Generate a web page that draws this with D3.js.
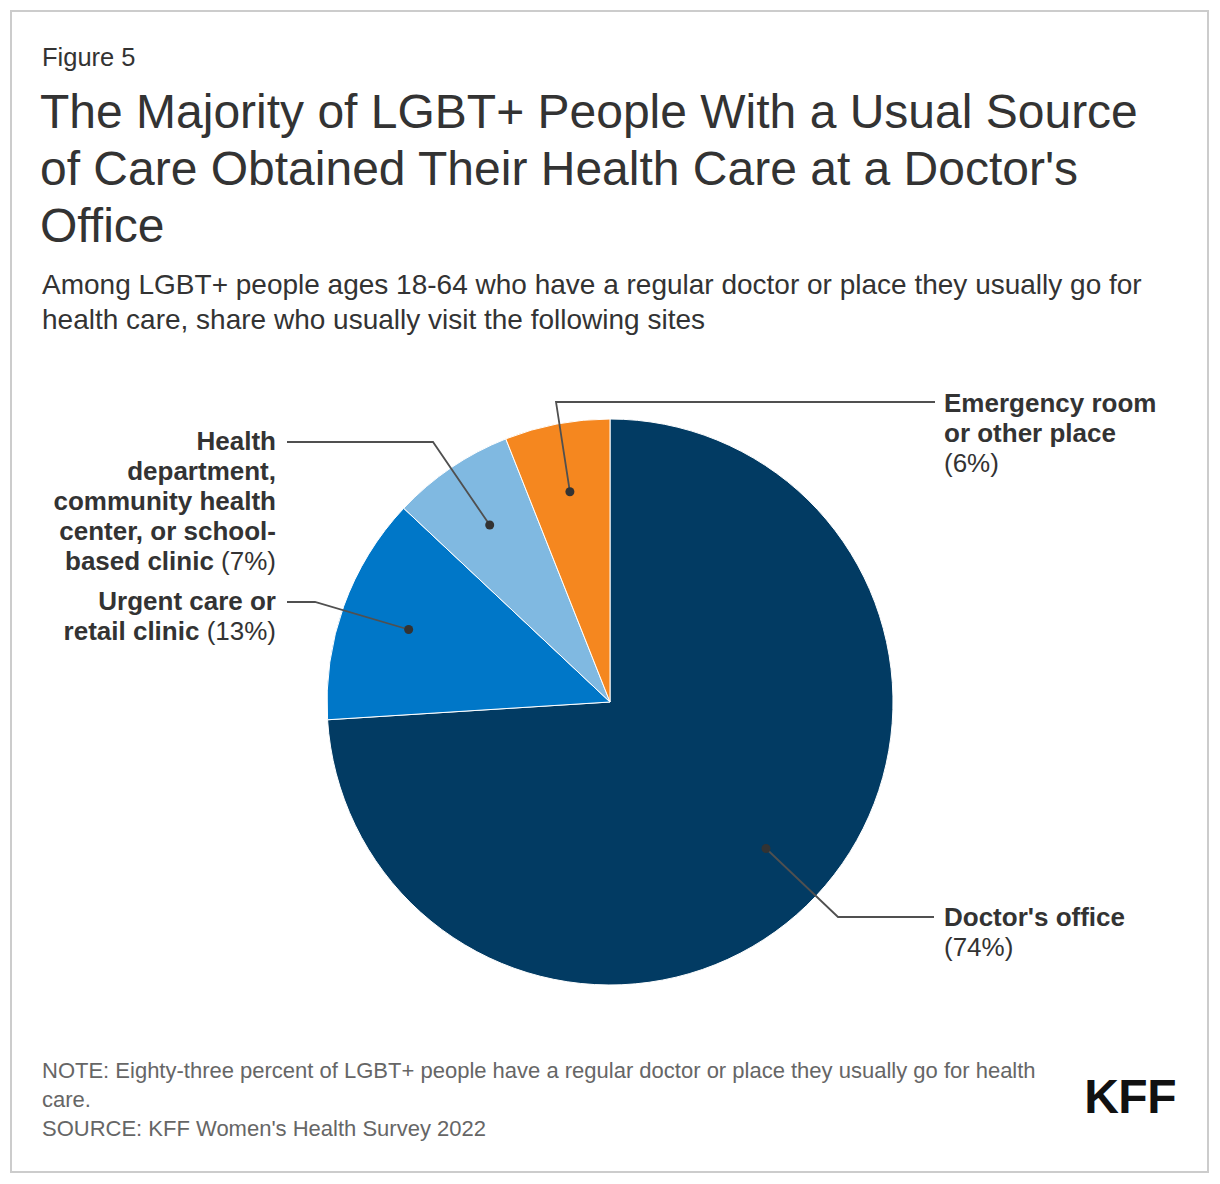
<!DOCTYPE html>
<html><head><meta charset="utf-8">
<script src="https://cdn.jsdelivr.net/npm/d3@7"></script>
<style>
body{margin:0;background:#fff;font-family:"Liberation Sans",Arial,sans-serif;}
svg text{font-family:"Liberation Sans",Arial,sans-serif;}
</style></head><body>
<script>
const categories = ["Doctor's office","Urgent care or retail clinic","Health department, community health center, or school-based clinic","Emergency room or other place"];
const values = [74, 13, 7, 6];
const colors = ["#023b63","#0077c8","#80b9e1","#f5871f"];
const labelLines = [
  ["Doctor's office"],
  ["Urgent care or", "retail clinic"],
  ["Health", "department,", "community health", "center, or school-", "based clinic"],
  ["Emergency room", "or other place", ""]
];
const pctLabels = values.map(v => "(" + v + "%)");

const W = 1220, H = 1184;
const svg = d3.select("body").append("svg").attr("width", W).attr("height", H);
svg.append("rect").attr("x",11).attr("y",11).attr("width",1197).attr("height",1161)
  .attr("fill","#fff").attr("stroke","#cccccc").attr("stroke-width",2);

svg.append("text").attr("x",42).attr("y",66).attr("font-size",25.5).attr("fill","#333").text("Figure 5");
const title = ["The Majority of LGBT+ People With a Usual Source","of Care Obtained Their Health Care at a Doctor's","Office"];
title.forEach((t,i)=>svg.append("text").attr("x",40).attr("y",128+i*57).attr("font-size",48).attr("fill","#333").text(t));
const sub = ["Among LGBT+ people ages 18-64 who have a regular doctor or place they usually go for","health care, share who usually visit the following sites"];
sub.forEach((t,i)=>svg.append("text").attr("x",42).attr("y",294+i*35).attr("font-size",28).attr("fill","#333").text(t));

const cx = 610, cy = 702, R = 283;
const g = svg.append("g").attr("transform",`translate(${cx},${cy})`);
const pie = d3.pie().sort(null).value(d=>d)(values);
const arc = d3.arc().innerRadius(0).outerRadius(R);
const dotArc = d3.arc().innerRadius(214).outerRadius(214);
g.selectAll("path.slice").data(pie).join("path").attr("class","slice")
  .attr("d",arc).attr("fill",(d,i)=>colors[i]).attr("stroke","#fff").attr("stroke-width",1);

const layout = [
  {elbow:[228,215], end:324, side:"start", tx:334, ty:224},
  {elbow:[-295,-100], end:-323, side:"end", tx:-334, ty:-92},
  {elbow:[-177,-260], end:-323, side:"end", tx:-334, ty:-252},
  {elbow:[-54,-300], end:325, side:"start", tx:334, ty:-290}
];
pie.forEach((d,i)=>{
  const [px,py] = dotArc.centroid(d);
  const L = layout[i];
  g.append("polyline").attr("points",`${px},${py} ${L.elbow[0]},${L.elbow[1]} ${L.end},${L.elbow[1]}`)
    .attr("fill","none").attr("stroke","#505050").attr("stroke-width",1.8);
  g.append("circle").attr("cx",px).attr("cy",py).attr("r",4.5).attr("fill","#333");
  const lines = labelLines[i];
  const t = g.append("text").attr("text-anchor",L.side).attr("font-size",26).attr("fill","#333");
  if (i===0) {
    t.append("tspan").attr("x",L.tx).attr("y",L.ty).attr("font-weight","bold").text(lines[0]);
    t.append("tspan").attr("x",L.tx).attr("y",L.ty+30).text(pctLabels[i]);
    return;
  }
  lines.forEach((ln,j)=>{
    const last = j===lines.length-1;
    const ts = t.append("tspan").attr("x",L.tx).attr("y",L.ty+j*30);
    if (ln) ts.attr("font-weight","bold").text(ln + (last?" ":""));
    if (last) {
      if (ln) t.append("tspan").attr("font-weight","normal").text(pctLabels[i]);
      else ts.attr("font-weight","normal").text(pctLabels[i]);
    }
  });
});

const notes = ["NOTE: Eighty-three percent of LGBT+ people have a regular doctor or place they usually go for health","care.","SOURCE: KFF Women's Health Survey 2022"];
notes.forEach((t,i)=>svg.append("text").attr("x",42).attr("y",1078+i*29).attr("font-size",22).attr("fill","#666").text(t));
svg.append("text").attr("x",1176).attr("y",1113).attr("text-anchor","end").attr("font-size",48)
  .attr("font-weight","bold").attr("fill","#111").attr("letter-spacing",-0.5).text("KFF");
</script></body></html>
